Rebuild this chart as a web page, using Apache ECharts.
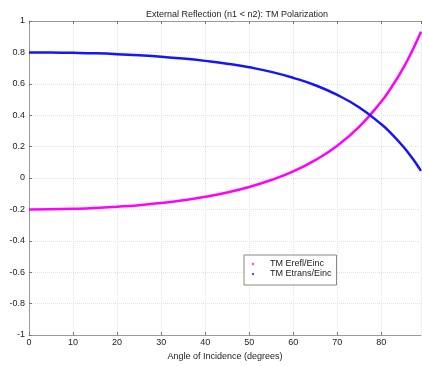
<!DOCTYPE html>
<html>
<head>
<meta charset="utf-8">
<script src="https://cdn.jsdelivr.net/npm/echarts@6/dist/echarts.min.js"></script>
<style>html,body{margin:0;padding:0;background:#fff}#c{width:422px;height:366px}</style>
</head>
<body>
<div id="c"></div>
<script>
var angles = [0, 5, 10, 15, 20, 25, 30, 35, 40, 45, 50, 55, 60, 65, 70, 75, 80, 82, 85, 87, 88, 89];
var reflValues = [-0.200, -0.199, -0.196, -0.191, -0.183, -0.173, -0.159, -0.142, -0.120, -0.092, -0.057, -0.013, 0.042, 0.114, 0.206, 0.327, 0.487, 0.565, 0.702, 0.810, 0.869, 0.932];
var transValues = [0.800, 0.799, 0.797, 0.794, 0.789, 0.782, 0.773, 0.761, 0.746, 0.728, 0.705, 0.676, 0.638, 0.591, 0.529, 0.449, 0.342, 0.290, 0.199, 0.127, 0.088, 0.045];
var seriesNames = ['TM Erefl/Einc', 'TM Etrans/Einc'];
var titleText = 'External Reflection (n1 < n2): TM Polarization';
var xAxisName = 'Angle of Incidence (degrees)';

function pairs(xs, ys) { return xs.map(function (x, i) { return [x, ys[i]]; }); }

var font = '"Liberation Sans", Arial, sans-serif';
var chart = echarts.init(document.getElementById('c'), null, {renderer: 'canvas'});
chart.setOption({
  animation: false,
  backgroundColor: '#fff',
  title: {
    text: titleText, left: 232, top: 5, textAlign: 'center',
    textStyle: {fontSize: 9, fontWeight: 'normal', color: '#222', fontFamily: font}
  },
  grid: {left: 29, right: 1, top: 21, bottom: 31},
  legend: {
    left: 244, top: 255, orient: 'vertical',
    padding: [4, 5, 6, 8], itemGap: 0,
    itemWidth: 24, itemHeight: 2, icon: 'circle',
    borderColor: '#888', borderWidth: 1, backgroundColor: '#fff',
    textStyle: {fontSize: 9, color: '#222', fontFamily: font, lineHeight: 10},
    data: seriesNames
  },
  xAxis: [{
    type: 'value', min: 0, max: 89, interval: 10,
    name: xAxisName, nameLocation: 'middle', nameGap: 17,
    nameTextStyle: {fontSize: 9, color: '#222', fontFamily: font},
    axisLine: {onZero: false, lineStyle: {color: '#999'}},
    axisTick: {inside: true, length: 3, lineStyle: {color: '#777'}},
    axisLabel: {fontSize: 9, color: '#222', fontFamily: font, margin: 3, showMaxLabel: false},
    splitLine: {show: true, lineStyle: {color: '#e2e2e2', type: 'dotted'}}
  }, {
    type: 'value', min: 0, max: 89, interval: 10, position: 'top',
    axisLine: {onZero: false, lineStyle: {color: '#999'}},
    axisTick: {inside: true, length: 3, lineStyle: {color: '#777'}},
    axisLabel: {show: false}, splitLine: {show: false}
  }],
  yAxis: {
    type: 'value', min: -1, max: 1, interval: 0.2,
    axisLine: {show: true, lineStyle: {color: '#999'}},
    axisTick: {show: true, inside: true, length: 3, lineStyle: {color: '#777'}},
    axisLabel: {fontSize: 9, color: '#222', fontFamily: font, margin: 4},
    splitLine: {show: true, lineStyle: {color: '#e2e2e2', type: 'dotted'}}
  },
  series: [{
    name: seriesNames[0], type: 'line', smooth: true, showSymbol: false,
    color: '#ff00ff', lineStyle: {width: 2.5, color: '#ff00ff'},
    data: pairs(angles, reflValues)
  }, {
    name: seriesNames[1], type: 'line', smooth: true, showSymbol: false,
    color: '#1414ff', lineStyle: {width: 2.5, color: '#1414ff'},
    data: pairs(angles, transValues)
  }]
});
</script>
</body>
</html>
